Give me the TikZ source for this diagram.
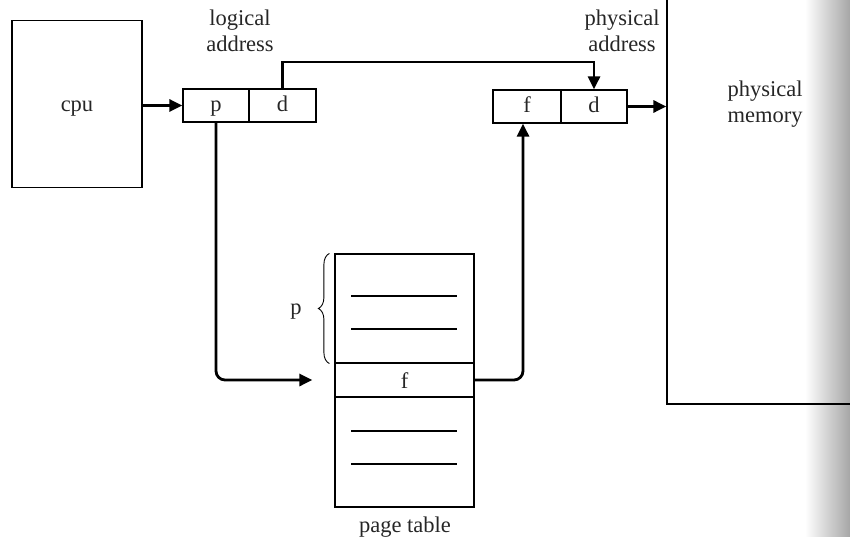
\documentclass[tikz,border=0pt]{standalone}
\usepackage{fontspec}
\setmainfont{Liberation Serif}
\usetikzlibrary{arrows.meta,decorations.pathreplacing,calc}
\begin{document}
\begin{tikzpicture}[x=1pt,y=-1pt,
  every node/.style={font=\fontsize{22.5}{26}\selectfont, inner sep=0pt, text=black!85},
  cell/.style={draw, line width=1.2pt, minimum height=33pt, text height=23pt, text depth=10pt},
  frame/.style={draw, line width=1.2pt},
  link/.style={line width=2.8pt, -{Triangle[length=13pt,width=12pt]}},
  rule/.style={line width=1.3pt}]
\useasboundingbox (0,0) rectangle (850,537);
% scanner shadow along the right edge
\shade[left color=white, right color=black!35, draw=none] (805,0) rectangle (850,537);

% cpu
\node[frame, minimum width=130pt, minimum height=167pt, text height=91pt, text depth=75pt] (cpu) at (77,104) {cpu};

% logical address register
\node[cell, minimum width=66pt] (lp) at (216,105.5) {p};
\node[cell, minimum width=67pt] (ld) at (282.5,105.5) {d};
\node[align=center] (lab1) at (240,31) {logical\\address};

% physical address register
\node[cell, minimum width=68pt] (pf) at (527,106.5) {f};
\node[cell, minimum width=66pt] (pd) at (594,106.5) {d};
\node[align=center] (lab2) at (622,31) {physical\\address};

% physical memory
\node[frame, minimum width=200pt, minimum height=420pt] (mem) at (767,194) {};
\node[align=center] (memtxt) at (765,104) {physical\\memory};

% page table
\node[frame, minimum width=139pt, minimum height=109pt] (ptop) at (404.5,308.5) {};
\node[frame, minimum width=139pt, minimum height=34pt, text height=25pt, text depth=9pt] (ftab) at (404.5,380) {f};
\node[frame, minimum width=139pt, minimum height=110pt] (pbot) at (404.5,452) {};
\node (ptlab) at (405,527) {page table};
\draw[rule] (351,296) -- (457,296);
\draw[rule] (351,329) -- (457,329);
\draw[rule] (351,431) -- (457,431);
\draw[rule] (351,464) -- (457,464);

% brace over the first p entries
\draw[line width=0.9pt, decorate,
      decoration={brace, amplitude=11pt}]
  ([xshift=-5pt]ptop.south west) -- ([xshift=-5pt]ptop.north west);
\node (plab) at (296,312) {p};

% connectors
\coordinate (top) at (0,62);
\draw[link] (cpu.east |- lp.west) -- (lp.west);
\draw[link] (ld.north) -- (ld.north |- top) -| (pd.north);
\draw[link] (pd.east) -- (pd.east -| mem.west);
\draw[link, rounded corners=9pt] (lp.south) |- ([xshift=-22pt]ftab.west);
\draw[link, rounded corners=9pt] (ftab.east) -| ([xshift=-4pt]pf.south);
\end{tikzpicture}
\end{document}
